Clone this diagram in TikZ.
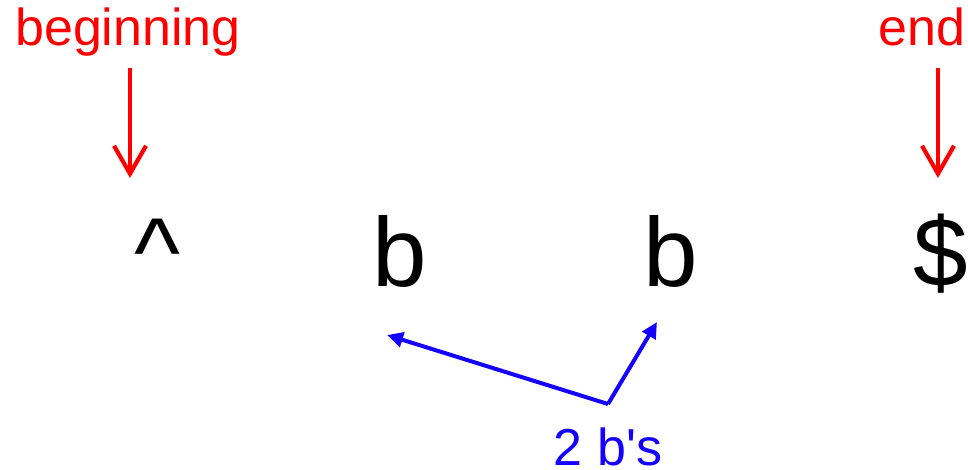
\documentclass[tikz,border=0pt]{standalone}
\usepackage{fontspec}
\setmainfont{Liberation Sans}
\usetikzlibrary{arrows.meta}
\definecolor{markred}{RGB}{255,0,0}
\definecolor{markblue}{RGB}{20,0,255}

\begin{document}
\begin{tikzpicture}[x=1pt,y=-1pt,
	sym/.style={anchor=base, inner sep=0pt, font=\fontsize{98}{98}\selectfont},
	tag/.style={anchor=base, inner sep=11pt, text depth=11pt, text=markred, font=\fontsize{52}{52}\selectfont},
	redarrow/.style={draw=markred, line width=4.2pt, -{Straight Barb[length=28pt,width=32pt]}},
	bluearrow/.style={draw=markblue, line width=4pt, -{Triangle[length=16pt,width=15pt]}}]
	\useasboundingbox (0,0) rectangle (968,470);

	% the string ^ b b $
	\node[sym] (caret) at (157,286) {\^{}};
	\node[sym] (bone) at (400,286) {b};
	\node[sym] (btwo) at (671,286) {b};
	\node[sym] (dollar) at (941,286) {\$};

	% anchors of the string
	\node[tag] (beg) at (128,46) {beginning};
	\node[tag] (fin) at (922,46) {end};
	\coordinate (begtip) at (130,178);
	\coordinate (fintip) at (938,178);
	\draw[redarrow] (beg.south -| begtip) -- (begtip);
	\draw[redarrow] (fin.south -| fintip) -- (fintip);

	% the two b's
	\node[tag, text=markblue, inner sep=0pt, text depth=0pt] (count) at (608,465) {2 b\textquotesingle s};
	\coordinate (fork) at (608,404);
	\coordinate (bonetip) at (387,335);
	\coordinate (btwotip) at (657,322);
	\draw[bluearrow] (fork) -- (bonetip);
	\draw[bluearrow] (fork) -- (btwotip);
\end{tikzpicture}
\end{document}
